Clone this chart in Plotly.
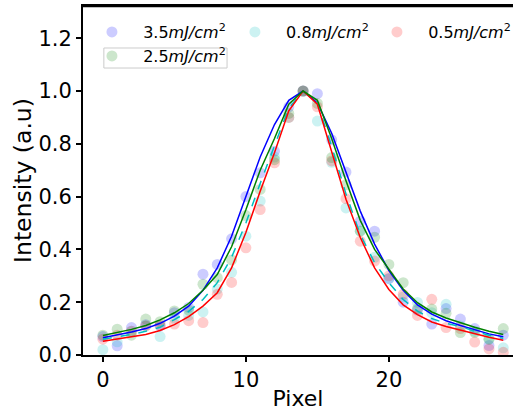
import plotly.graph_objects as go

pixels = list(range(29))

# measured points
y_35 = [0.07, 0.035, 0.104, 0.115, 0.11, 0.16, 0.18, 0.306, 0.343, 0.44, 0.60, 0.69, 0.772, 0.94,
        1.0, 0.99, 0.815, 0.693, 0.507, 0.469, 0.289, 0.20, 0.17, 0.117, 0.176, 0.136, 0.10, 0.036, 0.075]
y_08 = [0.02, 0.05, 0.09, 0.11, 0.07, 0.14, 0.15, 0.163, 0.25, 0.313, 0.45, 0.583, 0.75, 0.90,
        1.0, 0.886, 0.73, 0.557, 0.47, 0.37, 0.29, 0.22, 0.199, 0.16, 0.192, 0.11, 0.09, 0.06, 0.027]
y_05 = [0.06, 0.075, 0.09, 0.11, 0.113, 0.117, 0.13, 0.123, 0.23, 0.275, 0.406, 0.551, 0.728, 0.90,
        1.0, 0.94, 0.735, 0.592, 0.431, 0.356, 0.30, 0.23, 0.15, 0.211, 0.104, 0.10, 0.049, 0.023, 0.01]
y_25 = [0.075, 0.098, 0.075, 0.136, 0.126, 0.167, 0.17, 0.268, 0.293, 0.36, 0.528, 0.627, 0.74, 0.915,
        1.0, 0.953, 0.748, 0.645, 0.469, 0.446, 0.343, 0.274, 0.176, 0.174, 0.158, 0.085, 0.086, 0.06, 0.10]

# fitted curves
fit_35 = [0.065, 0.075, 0.087, 0.10, 0.12, 0.147, 0.185, 0.245, 0.33, 0.45, 0.597, 0.75, 0.873, 0.965,
          1.0, 0.955, 0.84, 0.69, 0.545, 0.42, 0.32, 0.245, 0.19, 0.155, 0.13, 0.112, 0.095, 0.08, 0.069]
fit_08 = [0.06, 0.068, 0.078, 0.09, 0.105, 0.134, 0.165, 0.21, 0.274, 0.37, 0.50, 0.65, 0.79, 0.935,
          1.0, 0.955, 0.79, 0.61, 0.456, 0.35, 0.274, 0.21, 0.166, 0.138, 0.12, 0.108, 0.09, 0.075, 0.063]
fit_05 = [0.052, 0.06, 0.068, 0.078, 0.093, 0.115, 0.145, 0.185, 0.236, 0.33, 0.464, 0.62, 0.766, 0.925,
          1.0, 0.95, 0.77, 0.59, 0.445, 0.33, 0.248, 0.19, 0.153, 0.125, 0.108, 0.094, 0.08, 0.067, 0.056]
fit_25 = [0.074, 0.085, 0.097, 0.112, 0.133, 0.16, 0.195, 0.245, 0.305, 0.41, 0.55, 0.70, 0.82, 0.95,
          1.0, 0.965, 0.82, 0.66, 0.51, 0.40, 0.324, 0.25, 0.198, 0.163, 0.14, 0.122, 0.105, 0.09, 0.078]

labels = ["3.5<i>mJ/cm</i><sup>2</sup>", "0.8<i>mJ/cm</i><sup>2</sup>",
          "0.5<i>mJ/cm</i><sup>2</sup>", "2.5<i>mJ/cm</i><sup>2</sup>"]
y_ticks = [0.0, 0.2, 0.4, 0.6, 0.8, 1.0, 1.2]
x_ticks = [0, 10, 20]

series = [
    (y_35, fit_35, labels[0], "rgba(0,0,255,0.2)", "rgb(0,0,255)", "solid", "legend"),
    (y_08, fit_08, labels[1], "rgba(0,191,191,0.2)", "rgb(0,191,191)", "dash", "legend2"),
    (y_05, fit_05, labels[2], "rgba(255,0,0,0.2)", "rgb(255,0,0)", "solid", "legend3"),
    (y_25, fit_25, labels[3], "rgba(0,128,0,0.2)", "rgb(0,128,0)", "solid", "legend4"),
]

fig = go.Figure()
for ys, fit, lab, mc, lc, dash, lg in series:
    fig.add_trace(go.Scatter(x=pixels, y=ys, mode="markers", name="\u2002\u2009" + lab, legend=lg,
                             marker=dict(size=11, color=mc, line=dict(width=0))))
for ys, fit, lab, mc, lc, dash, lg in series:
    fig.add_trace(go.Scatter(x=pixels, y=fit, mode="lines", showlegend=False,
                             line=dict(color=lc, width=1.5, dash=dash)))

axis_common = dict(showgrid=False, zeroline=False, showline=True, linecolor="black", linewidth=2,
                   ticks="outside", ticklen=5, tickwidth=1.5, tickcolor="black",
                   tickfont=dict(family="DejaVu Sans", size=21, color="black"))

legend_common = dict(xanchor="left", yanchor="middle", font=dict(size=16),
                     bgcolor="rgba(255,255,255,0)", itemsizing="trace")

fig.update_layout(
    width=516, height=411,
    margin=dict(l=83, r=0, t=6, b=56),
    paper_bgcolor="white", plot_bgcolor="white",
    font=dict(family="DejaVu Sans", color="black"),
    xaxis=dict(range=[-1.39, 28.68], tickvals=x_ticks, mirror=True,
               title=dict(text="Pixel", font=dict(size=22), standoff=4), **axis_common),
    yaxis=dict(range=[0, 1.322], tickvals=y_ticks, tickformat=".1f",
               title=dict(text="Intensity (a.u)", font=dict(size=23.5), standoff=0), **axis_common),
    legend=dict(x=0.0208, y=0.9255, **legend_common),
    legend2=dict(x=0.3533, y=0.9255, **legend_common),
    legend3=dict(x=0.6836, y=0.9255, **legend_common),
    legend4=dict(x=0.0208, y=0.8567, **legend_common),
    shapes=[
        dict(type="rect", xref="paper", yref="paper", x0=0.0485, x1=0.335, y0=0.8223, y1=0.8797,
             line=dict(color="#cccccc", width=1), fillcolor="rgba(0,0,0,0)"),
        dict(type="line", xref="paper", yref="paper", x0=0, x1=1, y0=1, y1=1,
             line=dict(color="black", width=2.5)),
    ],
)

fig.write_html("out.html", config={"displayModeBar": False},
               post_script="document.body.style.margin='0';")
